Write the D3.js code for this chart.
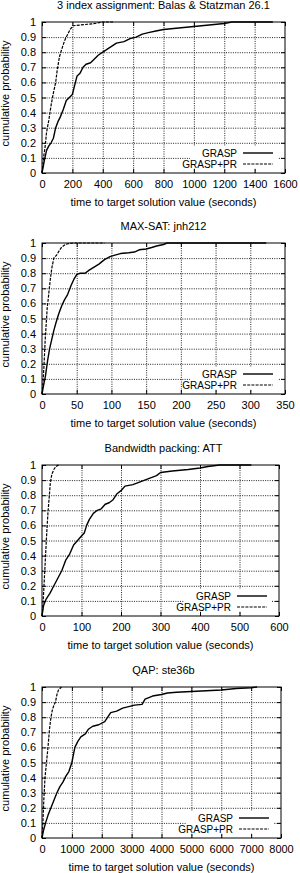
<!DOCTYPE html>
<html><head><meta charset="utf-8">
<script src="https://cdn.jsdelivr.net/npm/d3@7"></script>
<style>
body{margin:0;background:#fff}
svg{display:block}
text{font-family:"Liberation Sans",Arial,Helvetica,sans-serif;fill:#000}
</style>
</head><body>
<script>
// ---- data ----
const titles = ["3 index assignment: Balas & Statzman 26.1","MAX-SAT: jnh212","Bandwidth packing: ATT","QAP: ste36b"];
const seriesNames = ["GRASP","GRASP+PR"];
const yTicks = [0,0.1,0.2,0.3,0.4,0.5,0.6,0.7,0.8,0.9,1];
const xTicks1 = [0,200,400,600,800,1000,1200,1400,1600];
const xTicks2 = [0,50,100,150,200,250,300,350];
const xTicks3 = [0,100,200,300,400,500,600];
const xTicks4 = [0,1000,2000,3000,4000,5000,6000,7000,8000];

const p1Grasp = [[0,0],[15,0.08],[30,0.15],[45,0.18],[60,0.2],[75,0.23],[90,0.3],[105,0.34],[120,0.37],[140,0.42],[160,0.48],[180,0.5],[200,0.52],[215,0.58],[230,0.64],[250,0.66],[270,0.7],[290,0.72],[320,0.73],[340,0.75],[370,0.78],[400,0.8],[430,0.82],[460,0.84],[490,0.86],[540,0.87],[580,0.89],[620,0.9],[660,0.92],[700,0.93],[750,0.94],[800,0.95],[900,0.96],[1000,0.97],[1100,0.98],[1200,0.99],[1250,1.0],[1520,1.0]];
const p1GraspPR = [[0,0],[10,0.1],[20,0.17],[30,0.27],[45,0.35],[60,0.45],[75,0.53],[90,0.6],[100,0.68],[115,0.77],[130,0.82],[150,0.88],[170,0.92],[185,0.95],[205,0.975],[250,0.98],[300,0.985],[350,0.99],[400,1.0],[470,1.0]];

const p2Grasp = [[0,0],[2,0.05],[5,0.12],[8,0.22],[11,0.3],[14,0.36],[17,0.42],[20,0.47],[24,0.53],[28,0.58],[32,0.62],[37,0.66],[42,0.72],[46,0.76],[50,0.79],[55,0.8],[62,0.8],[68,0.82],[75,0.84],[82,0.86],[90,0.89],[98,0.91],[105,0.92],[113,0.93],[125,0.935],[133,0.94],[140,0.955],[150,0.96],[158,0.97],[165,0.98],[175,0.99],[180,1.0],[323,1.0]];
const p2GraspPR = [[0,0],[1.5,0.08],[3,0.2],[4.5,0.35],[6,0.46],[7.5,0.57],[9,0.63],[10.5,0.7],[12,0.76],[14,0.83],[17,0.9],[21,0.92],[25,0.95],[28,0.97],[32,0.985],[37,0.995],[45,1.0],[90,1.0]];

const p3Grasp = [[0,0],[4,0.07],[10,0.11],[20,0.15],[30,0.2],[40,0.25],[50,0.3],[60,0.37],[70,0.41],[80,0.47],[90,0.5],[100,0.53],[107,0.55],[113,0.6],[120,0.64],[130,0.68],[140,0.7],[150,0.71],[160,0.74],[170,0.75],[180,0.77],[190,0.81],[200,0.83],[210,0.86],[230,0.87],[250,0.89],[270,0.91],[290,0.93],[300,0.95],[330,0.96],[370,0.97],[400,0.98],[420,0.99],[450,1.0],[530,1.0]];
const p3GraspPR = [[0,0],[3,0.1],[6,0.25],[9,0.4],[12,0.55],[15,0.68],[18,0.78],[21,0.88],[25,0.94],[30,0.97],[35,0.99],[42,1.0]];

const p4Grasp = [[0,0],[50,0.05],[120,0.1],[200,0.15],[300,0.2],[400,0.25],[500,0.3],[600,0.34],[700,0.37],[800,0.41],[900,0.44],[1000,0.5],[1050,0.55],[1100,0.6],[1200,0.64],[1300,0.67],[1450,0.69],[1550,0.72],[1700,0.74],[1900,0.75],[2100,0.77],[2200,0.8],[2300,0.83],[2500,0.84],[2700,0.86],[2900,0.87],[3100,0.88],[3350,0.885],[3450,0.92],[3700,0.94],[4000,0.95],[4200,0.96],[4500,0.965],[5000,0.97],[5500,0.975],[6000,0.98],[6500,0.99],[7000,0.995],[7200,1.0]];
const p4GraspPR = [[0,0],[30,0.1],[60,0.25],[100,0.4],[150,0.5],[200,0.6],[250,0.72],[300,0.8],[350,0.85],[400,0.88],[450,0.9],[500,0.95],[550,0.98],[600,0.99],[650,1.0]];

const panels = [
  {title:titles[0], xt:xTicks1, grasp:p1Grasp, pr:p1GraspPR},
  {title:titles[1], xt:xTicks2, grasp:p2Grasp, pr:p2GraspPR},
  {title:titles[2], xt:xTicks3, grasp:p3Grasp, pr:p3GraspPR},
  {title:titles[3], xt:xTicks4, grasp:p4Grasp, pr:p4GraspPR}
];

// ---- layout ----
const layout = [{top:22,right:285},{top:243,right:285},{top:465,right:279},{top:687,right:281}];
const LEFT = 42, PH = 151, FS = 11, LFS = 10;

const svg = d3.select("body").append("svg").attr("width",300).attr("height",873);

function styleGrid(s){
  s.select(".domain").remove();
  s.selectAll("line").attr("stroke","#222").attr("stroke-width",1).attr("stroke-dasharray","1,1.3");
}
function styleAxis(s){
  s.select(".domain").remove();
  s.selectAll("line").attr("stroke","#000").attr("stroke-width",1);
  s.selectAll("text").attr("font-size",FS).attr("font-family",null).attr("fill","#000");
}

panels.forEach((p,i)=>{
  const T = layout[i].top, R = layout[i].right, B = T + PH, L = LEFT;
  const xMax = p.xt[p.xt.length-1];
  const x = d3.scaleLinear().domain([0,xMax]).range([L,R]);
  const y = d3.scaleLinear().domain([0,1]).range([B,T]);
  const g = svg.append("g");

  // grid
  g.append("g").attr("transform",`translate(0,${B})`)
    .call(d3.axisBottom(x).tickValues(p.xt.slice(1,-1)).tickSize(-(B-T)).tickFormat(""))
    .call(styleGrid);
  g.append("g").attr("transform",`translate(${L},0)`)
    .call(d3.axisLeft(y).tickValues(yTicks.slice(1,-1)).tickSize(-(R-L)).tickFormat(""))
    .call(styleGrid);

  // legend background
  const lg = g.append("g");
  lg.append("rect").attr("x",R-95).attr("y",B-27).attr("width",88).attr("height",22.5).attr("fill","#fff");

  // axes with inward ticks
  g.append("g").attr("transform",`translate(0,${B})`)
    .call(d3.axisBottom(x).tickValues(p.xt).tickSize(-4).tickPadding(7).tickFormat(d3.format("d")))
    .call(styleAxis);
  g.append("g").attr("transform",`translate(0,${T})`)
    .call(d3.axisTop(x).tickValues(p.xt).tickSize(-4).tickFormat(""))
    .call(styleAxis);
  g.append("g").attr("transform",`translate(${L},0)`)
    .call(d3.axisLeft(y).tickValues(yTicks).tickSize(-4).tickPadding(6).tickFormat(d=>d===0||d===1?String(d):d3.format(".1f")(d)))
    .call(styleAxis);
  g.append("g").attr("transform",`translate(${R},0)`)
    .call(d3.axisRight(y).tickValues(yTicks).tickSize(-4).tickFormat(""))
    .call(styleAxis);

  // border
  g.append("rect").attr("x",L).attr("y",T).attr("width",R-L).attr("height",B-T)
    .attr("fill","none").attr("stroke","#000").attr("stroke-width",1);

  // curves
  const line = d3.line().x(d=>x(d[0])).y(d=>y(d[1]));
  g.append("path").datum(p.grasp).attr("d",line).attr("fill","none")
    .attr("stroke","#000").attr("stroke-width",1.4).attr("stroke-linejoin","round");
  g.append("path").datum(p.pr).attr("d",line).attr("fill","none")
    .attr("stroke","#000").attr("stroke-width",1.2).attr("stroke-dasharray","3,1.2");

  // legend
  [0,1].forEach(k=>{
    const ly = B - 20 + k*11;
    lg.append("text").attr("x",R-48).attr("y",ly).attr("dy","0.35em")
      .attr("text-anchor","end").attr("font-size",LFS).text(seriesNames[k]);
    lg.append("line").attr("x1",R-42).attr("x2",R-12).attr("y1",ly).attr("y2",ly)
      .attr("stroke","#000").attr("stroke-width",k?1.2:1.4).attr("stroke-dasharray",k?"3,1.2":null);
  });
  lg.raise();

  // titles
  g.append("text").attr("x",(L+285)/2).attr("y",T-13).attr("text-anchor","middle")
    .attr("font-size",FS).text(p.title);
  g.append("text").attr("x",(L+285)/2 + (R-285)/2).attr("y",B+33).attr("text-anchor","middle")
    .attr("font-size",FS).text("time to target solution value (seconds)");
  g.append("text").attr("transform",`translate(9,${(T+B)/2 - 4}) rotate(-90)`)
    .attr("text-anchor","middle").attr("font-size",FS).text("cumulative probability");
});
</script>
</body></html>
